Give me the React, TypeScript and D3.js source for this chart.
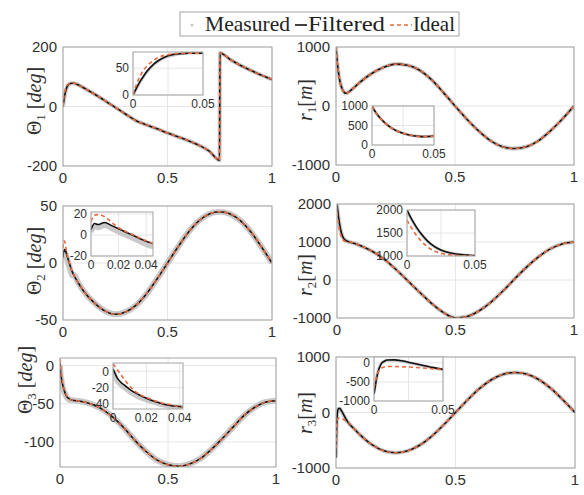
import { useEffect, useRef } from "react"
import * as d3 from "d3"

// time grids (normalised time)
const EARLY_T = [0, 0.0025, 0.005, 0.0075, 0.01, 0.015, 0.02, 0.025, 0.03, 0.035, 0.04, 0.045]
const LATE_T = [0.05, 0.075, 0.1, 0.15, 0.2, 0.25, 0.3, 0.35, 0.4, 0.45, 0.5, 0.55, 0.6, 0.65, 0.7, 0.75, 0.8, 0.85, 0.9, 0.95, 1]
const TH1_LATE_T = [0.05, 0.075, 0.1, 0.15, 0.2, 0.25, 0.3, 0.35, 0.4, 0.45, 0.5, 0.55, 0.6, 0.65, 0.7, 0.749, 0.751, 0.8, 0.85, 0.9, 0.95, 1]

// Θ1 [deg]
const th1Measured = [0, 12, 24, 34, 43, 57, 66, 72, 75, 77, 78, 78]
const th1Filtered = [0, 13, 25, 35, 44, 58, 67, 73, 76, 77, 78, 78]
const th1Ideal = [0, 20, 35, 46, 54, 65, 72, 75, 77, 78, 78, 78]
const th1Late = [78, 72, 62, 42, 20, -3, -26, -48, -62, -75, -89, -102, -115, -130, -150, -181, 180, 158, 138, 121, 105, 91]

// r1 [m]
const r1Measured = [1000, 860, 750, 660, 580, 450, 360, 300, 255, 230, 215, 218]
const r1Filtered = [1000, 860, 750, 660, 580, 450, 360, 300, 255, 230, 215, 218]
const r1Ideal = [1000, 860, 750, 660, 580, 450, 360, 300, 255, 230, 215, 218]
const r1Late = [228, 310, 400, 550, 655, 710, 690, 610, 450, 235, 0, -225, -425, -590, -690, -720, -690, -590, -425, -225, 0]

// Θ2 [deg]
const th2Measured = [3, 8, 7, 8, 9, 6, 3, 0, -3, -6, -9, -11]
const th2Filtered = [5, 11, 10, 11, 12, 9, 6, 3, 0, -3, -6, -8]
const th2Ideal = [13, 19, 19.5, 19, 17.5, 12, 7, 3.5, 0.5, -2.5, -5.5, -8]
const th2Late = [-10, -18, -25, -35, -42, -45, -43, -37, -27, -14, 0, 14, 27, 37, 43, 45, 43, 37, 27, 14, 0]

// r2 [m]
const r2Measured = [1990, 1840, 1710, 1590, 1490, 1320, 1205, 1125, 1075, 1048, 1028, 1016]
const r2Filtered = [2000, 1850, 1720, 1600, 1500, 1330, 1210, 1130, 1080, 1050, 1030, 1018]
const r2Ideal = [1780, 1650, 1530, 1430, 1340, 1200, 1110, 1060, 1030, 1015, 1008, 1003]
const r2Late = [1005, 960, 900, 750, 540, 270, -30, -330, -620, -860, -1000, -960, -810, -580, -290, 30, 340, 610, 820, 950, 1000]

// Θ3 [deg]
const th3Measured = [1, -12, -17, -21, -25, -31, -35, -38, -41, -43, -44, -45]
const th3Filtered = [3, -8, -14, -18, -22, -28, -33, -37, -40, -42, -43, -44]
const th3Ideal = [9, 2, -5, -12, -18, -27, -32, -36, -39, -41, -43, -44]
const th3Late = [-45, -46, -47, -51, -58, -69, -83, -99, -113, -124, -130, -132, -129, -122, -110, -96, -81, -66, -55, -48, -46]

// r3 [m]
const r3Measured = [-800, -280, -30, 35, 62, 68, 43, 8, -32, -72, -112, -148]
const r3Filtered = [-820, -300, -40, 40, 70, 75, 50, 15, -25, -65, -105, -140]
const r3Ideal = [-650, -300, -150, -110, -100, -100, -105, -112, -122, -135, -150, -165]
const r3Late = [-175, -290, -400, -580, -690, -725, -690, -590, -430, -225, 0, 225, 430, 590, 690, 720, 690, 590, 430, 225, 0]

const LEGEND = ["Measured", "Filtered", "Ideal"]
const MAIN_X_TICKS = [0, 0.5, 1]

const MEASURED_COLOR = "#c9c9c9"
const FILTERED_COLOR = "#111111"
const IDEAL_COLOR = "#ec6a3d"
const AXIS_COLOR = "#a3a3a3"
const GRID_COLOR = "#e6e6e6"
const TEXT_COLOR = "#303030"
const SANS = "Liberation Sans, Arial, sans-serif"
const SERIF = "Liberation Serif, DejaVu Serif, serif"

const join = (early, lateT, late) => [
  ...EARLY_T.map((t, i) => [t, early[i]]),
  ...lateT.map((t, i) => [t, late[i]]),
]
const build = (m, f, i, lateT, late) => ({
  measured: join(m, lateT, late),
  filtered: join(f, lateT, late),
  ideal: join(i, lateT, late),
})

const panels = [
  {
    data: build(th1Measured, th1Filtered, th1Ideal, TH1_LATE_T, th1Late),
    box: [63, 272, 47, 166], yDomain: [-200, 200], yTicks: [-200, 0, 200],
    label: { sym: "Θ", italic: false, sub: "1", unit: "deg", space: true, x: 41, y: 101 },
    bandWidth: 4,
    inset: { box: [133, 203, 52, 95], xDomain: [0, 0.05], yDomain: [0, 80], xTicks: [0, 0.05], yTicks: [0, 50], xGrid: [0.025] },
  },
  {
    data: build(r1Measured, r1Filtered, r1Ideal, LATE_T, r1Late),
    box: [336, 574, 47, 165], yDomain: [-1000, 1000], yTicks: [-1000, 0, 1000],
    label: { sym: "r", italic: true, sub: "1", unit: "m", space: false, x: 312, y: 100 },
    bandWidth: 4,
    inset: { box: [372, 434, 106, 145], xDomain: [0, 0.05], yDomain: [0, 1000], xTicks: [0, 0.05], yTicks: [0, 500, 1000], xGrid: [0.025] },
  },
  {
    data: build(th2Measured, th2Filtered, th2Ideal, LATE_T, th2Late),
    box: [63, 272, 206, 320], yDomain: [-50, 50], yTicks: [-50, 0, 50],
    label: { sym: "Θ", italic: false, sub: "2", unit: "deg", space: true, x: 41, y: 261 },
    bandWidth: 6,
    inset: { box: [91, 153, 212, 256], xDomain: [0, 0.045], yDomain: [-20, 22], xTicks: [0, 0.02, 0.04], yTicks: [-20, 0, 20], xGrid: [] },
  },
  {
    data: build(r2Measured, r2Filtered, r2Ideal, LATE_T, r2Late),
    box: [337, 574, 204, 318], yDomain: [-1000, 2000], yTicks: [-1000, 0, 1000, 2000],
    label: { sym: "r", italic: true, sub: "2", unit: "m", space: false, x: 312, y: 275 },
    bandWidth: 4,
    inset: { box: [407, 475, 210, 256], xDomain: [0, 0.05], yDomain: [1000, 2000], xTicks: [0, 0.05], yTicks: [1000, 1500, 2000], xGrid: [0.025] },
  },
  {
    data: build(th3Measured, th3Filtered, th3Ideal, LATE_T, th3Late),
    box: [60, 276, 358, 467], yDomain: [-133, 10], yTicks: [-100, -50, 0],
    label: { sym: "Θ", italic: false, sub: "3", unit: "deg", space: true, x: 32, y: 380 },
    bandWidth: 6,
    inset: { box: [113, 183, 363, 409], xDomain: [0, 0.042], yDomain: [-46, 10], xTicks: [0, 0.02, 0.04], yTicks: [-40, -20, 0], xGrid: [] },
  },
  {
    data: build(r3Measured, r3Filtered, r3Ideal, LATE_T, r3Late),
    box: [336, 575, 357, 468], yDomain: [-1000, 1000], yTicks: [-1000, 0, 1000],
    label: { sym: "r", italic: true, sub: "3", unit: "m", space: false, x: 312, y: 413 },
    bandWidth: 4,
    inset: { box: [374, 443, 357, 401], xDomain: [0, 0.05], yDomain: [-1000, 150], xTicks: [0, 0.05], yTicks: [-1000, -500, 0], xGrid: [0.025] },
  },
]

function drawSeries(g, x, y, data, bandWidth) {
  const line = d3
    .line()
    .x((d) => x(d[0]))
    .y((d) => y(d[1]))
    .curve(d3.curveMonotoneX)
  g.append("path").attr("d", line(data.measured)).attr("fill", "none").attr("stroke", MEASURED_COLOR).attr("stroke-width", bandWidth).attr("stroke-linejoin", "round")
  g.append("path").attr("d", line(data.filtered)).attr("fill", "none").attr("stroke", FILTERED_COLOR).attr("stroke-width", 1.6)
  g.append("path").attr("d", line(data.ideal)).attr("fill", "none").attr("stroke", IDEAL_COLOR).attr("stroke-width", 1.6).attr("stroke-dasharray", "4,3")
}

function drawAxes(svg, id, opts) {
  const { box, xDomain, yDomain, xTicks, yTicks, xGrid, data, bandWidth, fontSize, gap } = opts
  const [x0, x1, y0, y1] = box
  const x = d3.scaleLinear().domain(xDomain).range([x0, x1])
  const y = d3.scaleLinear().domain(yDomain).range([y1, y0])
  const g = svg.append("g")

  g.append("rect").attr("x", x0).attr("y", y0).attr("width", x1 - x0).attr("height", y1 - y0).attr("fill", "#fff")

  // grid
  ;[...xTicks, ...xGrid].forEach((v) => {
    g.append("line").attr("x1", x(v)).attr("x2", x(v)).attr("y1", y0).attr("y2", y1).attr("stroke", GRID_COLOR)
  })
  yTicks.forEach((v) => {
    g.append("line").attr("x1", x0).attr("x2", x1).attr("y1", y(v)).attr("y2", y(v)).attr("stroke", GRID_COLOR)
  })

  svg.append("clipPath").attr("id", id).append("rect").attr("x", x0).attr("y", y0).attr("width", x1 - x0).attr("height", y1 - y0)
  const lines = g.append("g").attr("clip-path", `url(#${id})`)
  const cut = (arr) => arr.filter((d) => d[0] <= xDomain[1] + 0.011)
  drawSeries(lines, x, y, { measured: cut(data.measured), filtered: cut(data.filtered), ideal: cut(data.ideal) }, bandWidth)

  g.append("rect").attr("x", x0).attr("y", y0).attr("width", x1 - x0).attr("height", y1 - y0).attr("fill", "none").attr("stroke", AXIS_COLOR)

  xTicks.forEach((v) => {
    g.append("text")
      .attr("x", x(v))
      .attr("y", y1 + gap + fontSize * 0.75)
      .attr("text-anchor", "middle")
      .attr("font-family", SANS)
      .attr("font-size", fontSize)
      .attr("fill", TEXT_COLOR)
      .text(String(v))
  })
  yTicks.forEach((v) => {
    g.append("text")
      .attr("x", x0 - gap)
      .attr("y", y(v) + fontSize * 0.36)
      .attr("text-anchor", "end")
      .attr("font-family", SANS)
      .attr("font-size", fontSize)
      .attr("fill", TEXT_COLOR)
      .text(String(v))
  })
}

function drawLabel(svg, label) {
  const t = svg
    .append("text")
    .attr("transform", `translate(${label.x},${label.y}) rotate(-90)`)
    .attr("text-anchor", "middle")
    .attr("font-family", SERIF)
    .attr("font-size", 20)
    .attr("fill", TEXT_COLOR)
  t.append("tspan").attr("font-style", label.italic ? "italic" : "normal").text(label.sym)
  t.append("tspan").attr("font-size", 13).attr("dy", 4).text(label.sub)
  t.append("tspan").attr("dy", -4).text(label.space ? " [" : "[")
  t.append("tspan").attr("font-style", "italic").text(label.unit)
  t.append("tspan").text("]")
}

export default function App() {
  const svgRef = useRef(null)

  useEffect(() => {
    const svg = d3.select(svgRef.current)
    svg.selectAll("*").remove()

    panels.forEach((p, i) => {
      drawAxes(svg, `main-${i}`, {
        box: p.box, xDomain: [0, 1], yDomain: p.yDomain, xTicks: MAIN_X_TICKS, yTicks: p.yTicks, xGrid: [],
        data: p.data, bandWidth: p.bandWidth, fontSize: 15, gap: 6,
      })
      drawLabel(svg, p.label)
      const ins = p.inset
      drawAxes(svg, `inset-${i}`, {
        box: ins.box, xDomain: ins.xDomain, yDomain: ins.yDomain, xTicks: ins.xTicks, yTicks: ins.yTicks, xGrid: ins.xGrid,
        data: p.data, bandWidth: p.bandWidth - 1, fontSize: 12, gap: 4,
      })
    })

    // legend
    const lg = svg.append("g")
    lg.append("rect").attr("x", 180).attr("y", 12).attr("width", 279).attr("height", 24).attr("fill", "#fff").attr("stroke", AXIS_COLOR)
    const cy = 25
    lg.append("circle").attr("cx", 192).attr("cy", cy).attr("r", 1.5).attr("fill", MEASURED_COLOR)
    lg.append("line").attr("x1", 295).attr("x2", 307).attr("y1", cy).attr("y2", cy).attr("stroke", FILTERED_COLOR).attr("stroke-width", 1.6)
    lg.append("line").attr("x1", 390).attr("x2", 412).attr("y1", cy).attr("y2", cy).attr("stroke", IDEAL_COLOR).attr("stroke-width", 1.6).attr("stroke-dasharray", "4,3")
    const items = [
      { name: LEGEND[0], x: 205, w: 85 },
      { name: LEGEND[1], x: 308, w: 77 },
      { name: LEGEND[2], x: 413, w: 42 },
    ]
    items.forEach((it) => {
      lg.append("text")
        .attr("x", it.x)
        .attr("y", 31)
        .attr("font-family", SERIF)
        .attr("font-size", 22)
        .attr("textLength", it.w)
        .attr("lengthAdjust", "spacingAndGlyphs")
        .attr("fill", "#222")
        .text(it.name)
    })
  }, [])

  return (
    <div style={{ position: "absolute", left: 0, top: 0 }}>
      <svg ref={svgRef} width={584} height={495} style={{ display: "block" }}></svg>
    </div>
  )
}
